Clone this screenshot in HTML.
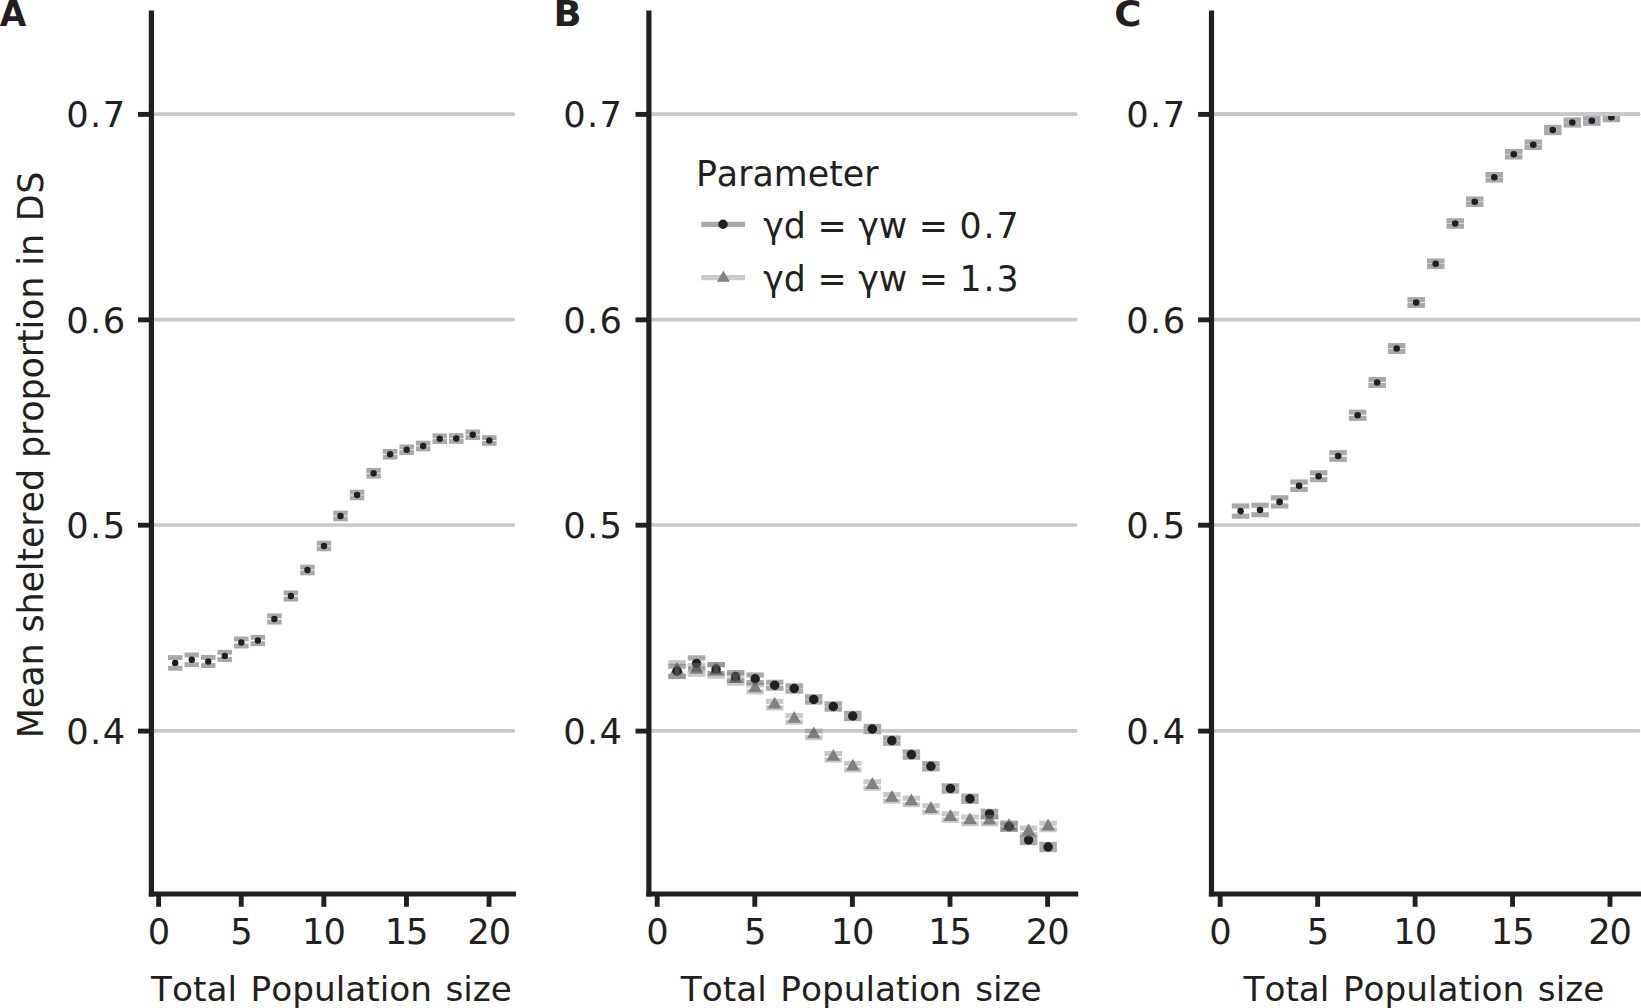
<!DOCTYPE html>
<html lang="en"><head><meta charset="utf-8"><title>Figure</title>
<style>html,body{margin:0;padding:0;background:#fff}svg{display:block}</style></head>
<body>
<svg width="1641" height="1008" viewBox="0 0 1641 1008" font-family="'DejaVu Sans', 'Liberation Sans', sans-serif" fill="#231f20" style="font-kerning:none">
<rect width="1641" height="1008" fill="#fff"/>
<line x1="153.90" y1="114.20" x2="513.45" y2="114.20" stroke="#c7c8ca" stroke-width="3.7" stroke-linecap="round"/>
<line x1="153.90" y1="319.65" x2="513.45" y2="319.65" stroke="#c7c8ca" stroke-width="3.7" stroke-linecap="round"/>
<line x1="153.90" y1="525.00" x2="513.45" y2="525.00" stroke="#c7c8ca" stroke-width="3.7" stroke-linecap="round"/>
<line x1="153.90" y1="730.90" x2="513.45" y2="730.90" stroke="#c7c8ca" stroke-width="3.7" stroke-linecap="round"/>
<line x1="651.50" y1="114.20" x2="1075.65" y2="114.20" stroke="#c7c8ca" stroke-width="3.7" stroke-linecap="round"/>
<line x1="651.50" y1="319.65" x2="1075.65" y2="319.65" stroke="#c7c8ca" stroke-width="3.7" stroke-linecap="round"/>
<line x1="651.50" y1="525.00" x2="1075.65" y2="525.00" stroke="#c7c8ca" stroke-width="3.7" stroke-linecap="round"/>
<line x1="651.50" y1="730.90" x2="1075.65" y2="730.90" stroke="#c7c8ca" stroke-width="3.7" stroke-linecap="round"/>
<line x1="1214.20" y1="114.20" x2="1638.45" y2="114.20" stroke="#c7c8ca" stroke-width="3.7" stroke-linecap="round"/>
<line x1="1214.20" y1="319.65" x2="1638.45" y2="319.65" stroke="#c7c8ca" stroke-width="3.7" stroke-linecap="round"/>
<line x1="1214.20" y1="525.00" x2="1638.45" y2="525.00" stroke="#c7c8ca" stroke-width="3.7" stroke-linecap="round"/>
<line x1="1214.20" y1="730.90" x2="1638.45" y2="730.90" stroke="#c7c8ca" stroke-width="3.7" stroke-linecap="round"/>
<g fill="#a7a9ac"><rect x="167.93" y="655.10" width="14.50" height="4.9"/><rect x="167.93" y="665.80" width="14.50" height="4.9"/><rect x="172.73" y="657.55" width="4.9" height="10.70"/></g>
<g fill="#a7a9ac"><rect x="184.47" y="652.50" width="14.50" height="4.9"/><rect x="184.47" y="662.20" width="14.50" height="4.9"/><rect x="189.27" y="654.95" width="4.9" height="9.70"/></g>
<g fill="#a7a9ac"><rect x="201.00" y="655.00" width="14.50" height="4.9"/><rect x="201.00" y="663.10" width="14.50" height="4.9"/><rect x="205.80" y="657.45" width="4.9" height="8.10"/></g>
<g fill="#a7a9ac"><rect x="217.54" y="649.85" width="14.50" height="4.9"/><rect x="217.54" y="657.05" width="14.50" height="4.9"/><rect x="222.34" y="652.30" width="4.9" height="7.20"/></g>
<g fill="#a7a9ac"><rect x="234.07" y="636.55" width="14.50" height="4.9"/><rect x="234.07" y="643.55" width="14.50" height="4.9"/><rect x="238.87" y="639.00" width="4.9" height="7.00"/></g>
<g fill="#a7a9ac"><rect x="250.60" y="634.85" width="14.50" height="4.9"/><rect x="250.60" y="641.25" width="14.50" height="4.9"/><rect x="255.40" y="637.30" width="4.9" height="6.40"/></g>
<g fill="#a7a9ac"><rect x="267.14" y="613.45" width="14.50" height="4.9"/><rect x="267.14" y="619.65" width="14.50" height="4.9"/><rect x="271.94" y="615.90" width="4.9" height="6.20"/></g>
<g fill="#a7a9ac"><rect x="283.67" y="590.45" width="14.50" height="4.9"/><rect x="283.67" y="596.65" width="14.50" height="4.9"/><rect x="288.47" y="592.90" width="4.9" height="6.20"/></g>
<g fill="#a7a9ac"><rect x="300.21" y="564.65" width="14.50" height="4.9"/><rect x="300.21" y="570.45" width="14.50" height="4.9"/><rect x="305.01" y="567.10" width="4.9" height="5.80"/></g>
<g fill="#a7a9ac"><rect x="316.74" y="540.70" width="14.50" height="4.9"/><rect x="316.74" y="546.40" width="14.50" height="4.9"/><rect x="321.54" y="543.15" width="4.9" height="5.70"/></g>
<g fill="#a7a9ac"><rect x="333.27" y="510.70" width="14.50" height="4.9"/><rect x="333.27" y="516.40" width="14.50" height="4.9"/><rect x="338.07" y="513.15" width="4.9" height="5.70"/></g>
<g fill="#a7a9ac"><rect x="349.81" y="489.70" width="14.50" height="4.9"/><rect x="349.81" y="495.40" width="14.50" height="4.9"/><rect x="354.61" y="492.15" width="4.9" height="5.70"/></g>
<g fill="#a7a9ac"><rect x="366.34" y="467.95" width="14.50" height="4.9"/><rect x="366.34" y="473.65" width="14.50" height="4.9"/><rect x="371.14" y="470.40" width="4.9" height="5.70"/></g>
<g fill="#a7a9ac"><rect x="382.88" y="448.95" width="14.50" height="4.9"/><rect x="382.88" y="454.65" width="14.50" height="4.9"/><rect x="387.68" y="451.40" width="4.9" height="5.70"/></g>
<g fill="#a7a9ac"><rect x="399.41" y="444.45" width="14.50" height="4.9"/><rect x="399.41" y="450.15" width="14.50" height="4.9"/><rect x="404.21" y="446.90" width="4.9" height="5.70"/></g>
<g fill="#a7a9ac"><rect x="415.94" y="440.70" width="14.50" height="4.9"/><rect x="415.94" y="446.40" width="14.50" height="4.9"/><rect x="420.74" y="443.15" width="4.9" height="5.70"/></g>
<g fill="#a7a9ac"><rect x="432.48" y="433.45" width="14.50" height="4.9"/><rect x="432.48" y="439.15" width="14.50" height="4.9"/><rect x="437.28" y="435.90" width="4.9" height="5.70"/></g>
<g fill="#a7a9ac"><rect x="449.01" y="433.20" width="14.50" height="4.9"/><rect x="449.01" y="438.90" width="14.50" height="4.9"/><rect x="453.81" y="435.65" width="4.9" height="5.70"/></g>
<g fill="#a7a9ac"><rect x="465.55" y="429.45" width="14.50" height="4.9"/><rect x="465.55" y="435.15" width="14.50" height="4.9"/><rect x="470.35" y="431.90" width="4.9" height="5.70"/></g>
<g fill="#a7a9ac"><rect x="482.08" y="435.20" width="14.50" height="4.9"/><rect x="482.08" y="440.90" width="14.50" height="4.9"/><rect x="486.88" y="437.65" width="4.9" height="5.70"/></g>
<circle cx="175.18" cy="662.90" r="3.2" fill="#231f20"/>
<circle cx="191.72" cy="659.80" r="3.2" fill="#231f20"/>
<circle cx="208.25" cy="661.50" r="3.2" fill="#231f20"/>
<circle cx="224.79" cy="655.90" r="3.2" fill="#231f20"/>
<circle cx="241.32" cy="642.50" r="3.2" fill="#231f20"/>
<circle cx="257.85" cy="640.50" r="3.2" fill="#231f20"/>
<circle cx="274.39" cy="619.00" r="3.2" fill="#231f20"/>
<circle cx="290.92" cy="596.00" r="3.2" fill="#231f20"/>
<circle cx="307.46" cy="570.00" r="3.2" fill="#231f20"/>
<circle cx="323.99" cy="546.00" r="3.2" fill="#231f20"/>
<circle cx="340.52" cy="516.00" r="3.2" fill="#231f20"/>
<circle cx="357.06" cy="495.00" r="3.2" fill="#231f20"/>
<circle cx="373.59" cy="473.25" r="3.2" fill="#231f20"/>
<circle cx="390.13" cy="454.25" r="3.2" fill="#231f20"/>
<circle cx="406.66" cy="449.75" r="3.2" fill="#231f20"/>
<circle cx="423.19" cy="446.00" r="3.2" fill="#231f20"/>
<circle cx="439.73" cy="438.75" r="3.2" fill="#231f20"/>
<circle cx="456.26" cy="438.50" r="3.2" fill="#231f20"/>
<circle cx="472.80" cy="434.75" r="3.2" fill="#231f20"/>
<circle cx="489.33" cy="440.50" r="3.2" fill="#231f20"/>
<g fill="#a7a9ac"><rect x="1231.80" y="503.45" width="17.50" height="5.1"/><rect x="1231.80" y="513.65" width="17.50" height="5.1"/><rect x="1238.00" y="506.00" width="5.1" height="10.20"/></g>
<g fill="#a7a9ac"><rect x="1251.31" y="502.70" width="17.50" height="5.1"/><rect x="1251.31" y="512.20" width="17.50" height="5.1"/><rect x="1257.51" y="505.25" width="5.1" height="9.50"/></g>
<g fill="#a7a9ac"><rect x="1270.83" y="495.25" width="17.50" height="5.1"/><rect x="1270.83" y="503.45" width="17.50" height="5.1"/><rect x="1277.03" y="497.80" width="5.1" height="8.20"/></g>
<g fill="#a7a9ac"><rect x="1290.34" y="479.45" width="17.50" height="5.1"/><rect x="1290.34" y="486.95" width="17.50" height="5.1"/><rect x="1296.54" y="482.00" width="5.1" height="7.50"/></g>
<g fill="#a7a9ac"><rect x="1309.86" y="470.30" width="17.50" height="5.1"/><rect x="1309.86" y="477.10" width="17.50" height="5.1"/><rect x="1316.06" y="472.85" width="5.1" height="6.80"/></g>
<g fill="#a7a9ac"><rect x="1329.38" y="450.15" width="17.50" height="5.1"/><rect x="1329.38" y="456.75" width="17.50" height="5.1"/><rect x="1335.58" y="452.70" width="5.1" height="6.60"/></g>
<g fill="#a7a9ac"><rect x="1348.89" y="409.60" width="17.50" height="5.1"/><rect x="1348.89" y="415.80" width="17.50" height="5.1"/><rect x="1355.09" y="412.15" width="5.1" height="6.20"/></g>
<g fill="#a7a9ac"><rect x="1368.41" y="376.95" width="17.50" height="5.1"/><rect x="1368.41" y="382.95" width="17.50" height="5.1"/><rect x="1374.61" y="379.50" width="5.1" height="6.00"/></g>
<g fill="#a7a9ac"><rect x="1387.92" y="343.05" width="17.50" height="5.1"/><rect x="1387.92" y="348.85" width="17.50" height="5.1"/><rect x="1394.12" y="345.60" width="5.1" height="5.80"/></g>
<g fill="#a7a9ac"><rect x="1407.44" y="297.10" width="17.50" height="5.1"/><rect x="1407.44" y="302.80" width="17.50" height="5.1"/><rect x="1413.64" y="299.65" width="5.1" height="5.70"/></g>
<g fill="#a7a9ac"><rect x="1426.96" y="258.45" width="17.50" height="5.1"/><rect x="1426.96" y="263.95" width="17.50" height="5.1"/><rect x="1433.16" y="261.00" width="5.1" height="5.50"/></g>
<g fill="#a7a9ac"><rect x="1446.47" y="218.20" width="17.50" height="5.1"/><rect x="1446.47" y="223.70" width="17.50" height="5.1"/><rect x="1452.67" y="220.75" width="5.1" height="5.50"/></g>
<g fill="#a7a9ac"><rect x="1465.99" y="196.45" width="17.50" height="5.1"/><rect x="1465.99" y="201.95" width="17.50" height="5.1"/><rect x="1472.19" y="199.00" width="5.1" height="5.50"/></g>
<g fill="#a7a9ac"><rect x="1485.50" y="171.95" width="17.50" height="5.1"/><rect x="1485.50" y="177.45" width="17.50" height="5.1"/><rect x="1491.70" y="174.50" width="5.1" height="5.50"/></g>
<g fill="#a7a9ac"><rect x="1505.02" y="148.95" width="17.50" height="5.1"/><rect x="1505.02" y="154.45" width="17.50" height="5.1"/><rect x="1511.22" y="151.50" width="5.1" height="5.50"/></g>
<g fill="#a7a9ac"><rect x="1524.54" y="139.45" width="17.50" height="5.1"/><rect x="1524.54" y="144.95" width="17.50" height="5.1"/><rect x="1530.74" y="142.00" width="5.1" height="5.50"/></g>
<g fill="#a7a9ac"><rect x="1544.05" y="124.80" width="17.50" height="5.1"/><rect x="1544.05" y="130.10" width="17.50" height="5.1"/><rect x="1550.25" y="127.35" width="5.1" height="5.30"/></g>
<g fill="#a7a9ac"><rect x="1563.57" y="117.45" width="17.50" height="5.1"/><rect x="1563.57" y="122.45" width="17.50" height="5.1"/><rect x="1569.77" y="120.00" width="5.1" height="5.00"/></g>
<g fill="#a7a9ac"><rect x="1583.08" y="115.70" width="17.50" height="5.1"/><rect x="1583.08" y="120.70" width="17.50" height="5.1"/><rect x="1589.28" y="118.25" width="5.1" height="5.00"/></g>
<g fill="#a7a9ac"><rect x="1602.60" y="112.15" width="17.50" height="5.1"/><rect x="1602.60" y="117.15" width="17.50" height="5.1"/><rect x="1608.80" y="114.70" width="5.1" height="5.00"/></g>
<circle cx="1240.55" cy="511.10" r="3.3" fill="#231f20"/>
<circle cx="1260.06" cy="510.00" r="3.3" fill="#231f20"/>
<circle cx="1279.58" cy="501.90" r="3.3" fill="#231f20"/>
<circle cx="1299.09" cy="485.75" r="3.3" fill="#231f20"/>
<circle cx="1318.61" cy="476.25" r="3.3" fill="#231f20"/>
<circle cx="1338.13" cy="456.00" r="3.3" fill="#231f20"/>
<circle cx="1357.64" cy="415.25" r="3.3" fill="#231f20"/>
<circle cx="1377.16" cy="382.50" r="3.3" fill="#231f20"/>
<circle cx="1396.67" cy="348.50" r="3.3" fill="#231f20"/>
<circle cx="1416.19" cy="302.50" r="3.3" fill="#231f20"/>
<circle cx="1435.71" cy="263.75" r="3.3" fill="#231f20"/>
<circle cx="1455.22" cy="223.50" r="3.3" fill="#231f20"/>
<circle cx="1474.74" cy="201.75" r="3.3" fill="#231f20"/>
<circle cx="1494.25" cy="177.25" r="3.3" fill="#231f20"/>
<circle cx="1513.77" cy="154.25" r="3.3" fill="#231f20"/>
<circle cx="1533.29" cy="144.75" r="3.3" fill="#231f20"/>
<circle cx="1552.80" cy="130.00" r="3.3" fill="#231f20"/>
<circle cx="1572.32" cy="122.50" r="3.3" fill="#231f20"/>
<circle cx="1591.83" cy="120.75" r="3.3" fill="#231f20"/>
<circle cx="1611.35" cy="117.20" r="3.3" fill="#231f20"/>
<line x1="1214.20" y1="114.20" x2="1638.45" y2="114.20" stroke="#c7c8ca" stroke-width="3.7" stroke-linecap="round"/>
<g fill="#a7a9ac"><rect x="668.28" y="663.70" width="17.50" height="5.1"/><rect x="668.28" y="673.70" width="17.50" height="5.1"/><rect x="674.48" y="666.25" width="5.1" height="10.00"/></g>
<g fill="#a7a9ac"><rect x="687.81" y="655.35" width="17.50" height="5.1"/><rect x="687.81" y="666.55" width="17.50" height="5.1"/><rect x="694.01" y="657.90" width="5.1" height="11.20"/></g>
<g fill="#a7a9ac"><rect x="707.34" y="661.95" width="17.50" height="5.1"/><rect x="707.34" y="670.95" width="17.50" height="5.1"/><rect x="713.54" y="664.50" width="5.1" height="9.00"/></g>
<g fill="#a7a9ac"><rect x="726.87" y="670.00" width="17.50" height="5.1"/><rect x="726.87" y="677.90" width="17.50" height="5.1"/><rect x="733.07" y="672.55" width="5.1" height="7.90"/></g>
<g fill="#a7a9ac"><rect x="746.40" y="672.40" width="17.50" height="5.1"/><rect x="746.40" y="680.00" width="17.50" height="5.1"/><rect x="752.60" y="674.95" width="5.1" height="7.60"/></g>
<g fill="#a7a9ac"><rect x="765.93" y="679.70" width="17.50" height="5.1"/><rect x="765.93" y="685.70" width="17.50" height="5.1"/><rect x="772.13" y="682.25" width="5.1" height="6.00"/></g>
<g fill="#a7a9ac"><rect x="785.46" y="683.30" width="17.50" height="5.1"/><rect x="785.46" y="688.60" width="17.50" height="5.1"/><rect x="791.66" y="685.85" width="5.1" height="5.30"/></g>
<g fill="#a7a9ac"><rect x="804.99" y="694.20" width="17.50" height="5.1"/><rect x="804.99" y="699.50" width="17.50" height="5.1"/><rect x="811.19" y="696.75" width="5.1" height="5.30"/></g>
<g fill="#a7a9ac"><rect x="824.52" y="701.30" width="17.50" height="5.1"/><rect x="824.52" y="706.60" width="17.50" height="5.1"/><rect x="830.72" y="703.85" width="5.1" height="5.30"/></g>
<g fill="#a7a9ac"><rect x="844.05" y="710.80" width="17.50" height="5.1"/><rect x="844.05" y="716.10" width="17.50" height="5.1"/><rect x="850.25" y="713.35" width="5.1" height="5.30"/></g>
<g fill="#a7a9ac"><rect x="863.58" y="723.80" width="17.50" height="5.1"/><rect x="863.58" y="729.10" width="17.50" height="5.1"/><rect x="869.78" y="726.35" width="5.1" height="5.30"/></g>
<g fill="#a7a9ac"><rect x="883.11" y="735.40" width="17.50" height="5.1"/><rect x="883.11" y="740.70" width="17.50" height="5.1"/><rect x="889.31" y="737.95" width="5.1" height="5.30"/></g>
<g fill="#a7a9ac"><rect x="902.64" y="749.40" width="17.50" height="5.1"/><rect x="902.64" y="754.70" width="17.50" height="5.1"/><rect x="908.84" y="751.95" width="5.1" height="5.30"/></g>
<g fill="#a7a9ac"><rect x="922.17" y="761.05" width="17.50" height="5.1"/><rect x="922.17" y="766.35" width="17.50" height="5.1"/><rect x="928.37" y="763.60" width="5.1" height="5.30"/></g>
<g fill="#a7a9ac"><rect x="941.70" y="783.30" width="17.50" height="5.1"/><rect x="941.70" y="788.60" width="17.50" height="5.1"/><rect x="947.90" y="785.85" width="5.1" height="5.30"/></g>
<g fill="#a7a9ac"><rect x="961.23" y="793.55" width="17.50" height="5.1"/><rect x="961.23" y="798.85" width="17.50" height="5.1"/><rect x="967.43" y="796.10" width="5.1" height="5.30"/></g>
<g fill="#a7a9ac"><rect x="980.76" y="808.70" width="17.50" height="5.1"/><rect x="980.76" y="814.00" width="17.50" height="5.1"/><rect x="986.96" y="811.25" width="5.1" height="5.30"/></g>
<g fill="#a7a9ac"><rect x="1000.29" y="821.40" width="17.50" height="5.1"/><rect x="1000.29" y="826.70" width="17.50" height="5.1"/><rect x="1006.49" y="823.95" width="5.1" height="5.30"/></g>
<g fill="#a7a9ac"><rect x="1019.82" y="834.80" width="17.50" height="5.1"/><rect x="1019.82" y="840.10" width="17.50" height="5.1"/><rect x="1026.02" y="837.35" width="5.1" height="5.30"/></g>
<g fill="#a7a9ac"><rect x="1039.35" y="841.80" width="17.50" height="5.1"/><rect x="1039.35" y="847.10" width="17.50" height="5.1"/><rect x="1045.55" y="844.35" width="5.1" height="5.30"/></g>
<circle cx="677.03" cy="671.25" r="4.75" fill="#231f20"/>
<circle cx="696.56" cy="663.50" r="4.75" fill="#231f20"/>
<circle cx="716.09" cy="669.00" r="4.75" fill="#231f20"/>
<circle cx="735.62" cy="676.50" r="4.75" fill="#231f20"/>
<circle cx="755.15" cy="678.75" r="4.75" fill="#231f20"/>
<circle cx="774.68" cy="685.25" r="4.75" fill="#231f20"/>
<circle cx="794.21" cy="688.50" r="4.75" fill="#231f20"/>
<circle cx="813.74" cy="699.40" r="4.75" fill="#231f20"/>
<circle cx="833.27" cy="706.50" r="4.75" fill="#231f20"/>
<circle cx="852.80" cy="716.00" r="4.75" fill="#231f20"/>
<circle cx="872.33" cy="729.00" r="4.75" fill="#231f20"/>
<circle cx="891.86" cy="740.60" r="4.75" fill="#231f20"/>
<circle cx="911.39" cy="754.60" r="4.75" fill="#231f20"/>
<circle cx="930.92" cy="766.25" r="4.75" fill="#231f20"/>
<circle cx="950.45" cy="788.50" r="4.75" fill="#231f20"/>
<circle cx="969.98" cy="798.75" r="4.75" fill="#231f20"/>
<circle cx="989.51" cy="813.90" r="4.75" fill="#231f20"/>
<circle cx="1009.04" cy="826.60" r="4.75" fill="#231f20"/>
<circle cx="1028.57" cy="840.00" r="4.75" fill="#231f20"/>
<circle cx="1048.10" cy="847.00" r="4.75" fill="#231f20"/>
<polygon points="677.03,661.80 683.87,673.65 670.19,673.65" fill="#231f20" fill-opacity="0.56"/>
<polygon points="696.56,662.00 703.40,673.85 689.72,673.85" fill="#231f20" fill-opacity="0.56"/>
<polygon points="716.09,662.60 722.93,674.45 709.25,674.45" fill="#231f20" fill-opacity="0.56"/>
<polygon points="735.62,671.20 742.46,683.05 728.78,683.05" fill="#231f20" fill-opacity="0.56"/>
<polygon points="755.15,680.50 761.99,692.35 748.31,692.35" fill="#231f20" fill-opacity="0.56"/>
<polygon points="774.68,696.70 781.52,708.55 767.84,708.55" fill="#231f20" fill-opacity="0.56"/>
<polygon points="794.21,711.00 801.05,722.85 787.37,722.85" fill="#231f20" fill-opacity="0.56"/>
<polygon points="813.74,726.50 820.58,738.35 806.90,738.35" fill="#231f20" fill-opacity="0.56"/>
<polygon points="833.27,748.90 840.11,760.75 826.43,760.75" fill="#231f20" fill-opacity="0.56"/>
<polygon points="852.80,758.70 859.64,770.55 845.96,770.55" fill="#231f20" fill-opacity="0.56"/>
<polygon points="872.33,777.10 879.17,788.95 865.49,788.95" fill="#231f20" fill-opacity="0.56"/>
<polygon points="891.86,790.00 898.70,801.85 885.02,801.85" fill="#231f20" fill-opacity="0.56"/>
<polygon points="911.39,793.50 918.23,805.35 904.55,805.35" fill="#231f20" fill-opacity="0.56"/>
<polygon points="930.92,801.10 937.76,812.95 924.08,812.95" fill="#231f20" fill-opacity="0.56"/>
<polygon points="950.45,809.10 957.29,820.95 943.61,820.95" fill="#231f20" fill-opacity="0.56"/>
<polygon points="969.98,812.50 976.82,824.35 963.14,824.35" fill="#231f20" fill-opacity="0.56"/>
<polygon points="989.51,812.60 996.35,824.45 982.67,824.45" fill="#231f20" fill-opacity="0.56"/>
<polygon points="1009.04,818.10 1015.88,829.95 1002.20,829.95" fill="#231f20" fill-opacity="0.56"/>
<polygon points="1028.57,823.40 1035.41,835.25 1021.73,835.25" fill="#231f20" fill-opacity="0.56"/>
<polygon points="1048.10,818.60 1054.94,830.45 1041.26,830.45" fill="#231f20" fill-opacity="0.56"/>
<g fill="#7f7f7f" opacity="0.42"><rect x="668.28" y="660.15" width="17.50" height="5.1"/><rect x="668.28" y="674.15" width="17.50" height="5.1"/><rect x="674.48" y="662.70" width="5.1" height="14.00"/></g>
<g fill="#7f7f7f" opacity="0.42"><rect x="687.81" y="662.95" width="17.50" height="5.1"/><rect x="687.81" y="671.75" width="17.50" height="5.1"/><rect x="694.01" y="665.50" width="5.1" height="8.80"/></g>
<g fill="#7f7f7f" opacity="0.42"><rect x="707.34" y="662.25" width="17.50" height="5.1"/><rect x="707.34" y="673.65" width="17.50" height="5.1"/><rect x="713.54" y="664.80" width="5.1" height="11.40"/></g>
<g fill="#7f7f7f" opacity="0.42"><rect x="726.87" y="672.40" width="17.50" height="5.1"/><rect x="726.87" y="680.70" width="17.50" height="5.1"/><rect x="733.07" y="674.95" width="5.1" height="8.30"/></g>
<g fill="#7f7f7f" opacity="0.42"><rect x="746.40" y="682.35" width="17.50" height="5.1"/><rect x="746.40" y="689.35" width="17.50" height="5.1"/><rect x="752.60" y="684.90" width="5.1" height="7.00"/></g>
<g fill="#7f7f7f" opacity="0.42"><rect x="765.93" y="698.80" width="17.50" height="5.1"/><rect x="765.93" y="705.30" width="17.50" height="5.1"/><rect x="772.13" y="701.35" width="5.1" height="6.50"/></g>
<g fill="#7f7f7f" opacity="0.42"><rect x="785.46" y="713.10" width="17.50" height="5.1"/><rect x="785.46" y="719.60" width="17.50" height="5.1"/><rect x="791.66" y="715.65" width="5.1" height="6.50"/></g>
<g fill="#7f7f7f" opacity="0.42"><rect x="804.99" y="728.60" width="17.50" height="5.1"/><rect x="804.99" y="735.10" width="17.50" height="5.1"/><rect x="811.19" y="731.15" width="5.1" height="6.50"/></g>
<g fill="#7f7f7f" opacity="0.42"><rect x="824.52" y="751.00" width="17.50" height="5.1"/><rect x="824.52" y="757.50" width="17.50" height="5.1"/><rect x="830.72" y="753.55" width="5.1" height="6.50"/></g>
<g fill="#7f7f7f" opacity="0.42"><rect x="844.05" y="760.80" width="17.50" height="5.1"/><rect x="844.05" y="767.30" width="17.50" height="5.1"/><rect x="850.25" y="763.35" width="5.1" height="6.50"/></g>
<g fill="#7f7f7f" opacity="0.42"><rect x="863.58" y="779.20" width="17.50" height="5.1"/><rect x="863.58" y="785.70" width="17.50" height="5.1"/><rect x="869.78" y="781.75" width="5.1" height="6.50"/></g>
<g fill="#7f7f7f" opacity="0.42"><rect x="883.11" y="792.10" width="17.50" height="5.1"/><rect x="883.11" y="798.60" width="17.50" height="5.1"/><rect x="889.31" y="794.65" width="5.1" height="6.50"/></g>
<g fill="#7f7f7f" opacity="0.42"><rect x="902.64" y="795.60" width="17.50" height="5.1"/><rect x="902.64" y="802.10" width="17.50" height="5.1"/><rect x="908.84" y="798.15" width="5.1" height="6.50"/></g>
<g fill="#7f7f7f" opacity="0.42"><rect x="922.17" y="803.20" width="17.50" height="5.1"/><rect x="922.17" y="809.70" width="17.50" height="5.1"/><rect x="928.37" y="805.75" width="5.1" height="6.50"/></g>
<g fill="#7f7f7f" opacity="0.42"><rect x="941.70" y="811.20" width="17.50" height="5.1"/><rect x="941.70" y="817.70" width="17.50" height="5.1"/><rect x="947.90" y="813.75" width="5.1" height="6.50"/></g>
<g fill="#7f7f7f" opacity="0.42"><rect x="961.23" y="814.60" width="17.50" height="5.1"/><rect x="961.23" y="821.10" width="17.50" height="5.1"/><rect x="967.43" y="817.15" width="5.1" height="6.50"/></g>
<g fill="#7f7f7f" opacity="0.42"><rect x="980.76" y="814.70" width="17.50" height="5.1"/><rect x="980.76" y="821.20" width="17.50" height="5.1"/><rect x="986.96" y="817.25" width="5.1" height="6.50"/></g>
<g fill="#7f7f7f" opacity="0.42"><rect x="1000.29" y="820.20" width="17.50" height="5.1"/><rect x="1000.29" y="826.70" width="17.50" height="5.1"/><rect x="1006.49" y="822.75" width="5.1" height="6.50"/></g>
<g fill="#7f7f7f" opacity="0.42"><rect x="1019.82" y="825.50" width="17.50" height="5.1"/><rect x="1019.82" y="832.00" width="17.50" height="5.1"/><rect x="1026.02" y="828.05" width="5.1" height="6.50"/></g>
<g fill="#7f7f7f" opacity="0.42"><rect x="1039.35" y="820.70" width="17.50" height="5.1"/><rect x="1039.35" y="827.20" width="17.50" height="5.1"/><rect x="1045.55" y="823.25" width="5.1" height="6.50"/></g>
<line x1="151.40" y1="10.4" x2="151.40" y2="896.60" stroke="#231f20" stroke-width="5.2"/>
<line x1="148.80" y1="894.00" x2="516.00" y2="894.00" stroke="#231f20" stroke-width="5.2"/>
<line x1="138.00" y1="114.40" x2="151.40" y2="114.40" stroke="#231f20" stroke-width="4.9"/>
<text transform="translate(126.40,127.20) scale(1,1.03)" text-anchor="end" font-size="35.3" letter-spacing="1.3">0.7</text>
<line x1="138.00" y1="319.85" x2="151.40" y2="319.85" stroke="#231f20" stroke-width="4.9"/>
<text transform="translate(126.40,332.65) scale(1,1.03)" text-anchor="end" font-size="35.3" letter-spacing="1.3">0.6</text>
<line x1="138.00" y1="525.20" x2="151.40" y2="525.20" stroke="#231f20" stroke-width="4.9"/>
<text transform="translate(126.40,538.00) scale(1,1.03)" text-anchor="end" font-size="35.3" letter-spacing="1.3">0.5</text>
<line x1="138.00" y1="731.10" x2="151.40" y2="731.10" stroke="#231f20" stroke-width="4.9"/>
<text transform="translate(126.40,743.90) scale(1,1.03)" text-anchor="end" font-size="35.3" letter-spacing="1.3">0.4</text>
<line x1="158.65" y1="894.00" x2="158.65" y2="906.8" stroke="#231f20" stroke-width="4.9"/>
<text transform="translate(158.95,944.1) scale(1,1.03)" text-anchor="middle" font-size="35.3">0</text>
<line x1="241.25" y1="894.00" x2="241.25" y2="906.8" stroke="#231f20" stroke-width="4.9"/>
<text transform="translate(241.55,944.1) scale(1,1.03)" text-anchor="middle" font-size="35.3">5</text>
<line x1="323.85" y1="894.00" x2="323.85" y2="906.8" stroke="#231f20" stroke-width="4.9"/>
<text transform="translate(323.45,944.1) scale(1,1.03)" text-anchor="middle" font-size="35.3" letter-spacing="-1.1">10</text>
<line x1="406.45" y1="894.00" x2="406.45" y2="906.8" stroke="#231f20" stroke-width="4.9"/>
<text transform="translate(406.05,944.1) scale(1,1.03)" text-anchor="middle" font-size="35.3" letter-spacing="-1.1">15</text>
<line x1="489.05" y1="894.00" x2="489.05" y2="906.8" stroke="#231f20" stroke-width="4.9"/>
<text transform="translate(488.65,944.1) scale(1,1.03)" text-anchor="middle" font-size="35.3" letter-spacing="-1.1">20</text>
<text x="331.50" y="1001" text-anchor="middle" font-size="34.3" word-spacing="2.6">Total Population size</text>
<line x1="648.90" y1="10.4" x2="648.90" y2="896.60" stroke="#231f20" stroke-width="5.2"/>
<line x1="646.30" y1="894.00" x2="1078.20" y2="894.00" stroke="#231f20" stroke-width="5.2"/>
<line x1="635.50" y1="114.40" x2="648.90" y2="114.40" stroke="#231f20" stroke-width="4.9"/>
<text transform="translate(623.30,127.20) scale(1,1.03)" text-anchor="end" font-size="35.3" letter-spacing="1.3">0.7</text>
<line x1="635.50" y1="319.85" x2="648.90" y2="319.85" stroke="#231f20" stroke-width="4.9"/>
<text transform="translate(623.30,332.65) scale(1,1.03)" text-anchor="end" font-size="35.3" letter-spacing="1.3">0.6</text>
<line x1="635.50" y1="525.20" x2="648.90" y2="525.20" stroke="#231f20" stroke-width="4.9"/>
<text transform="translate(623.30,538.00) scale(1,1.03)" text-anchor="end" font-size="35.3" letter-spacing="1.3">0.5</text>
<line x1="635.50" y1="731.10" x2="648.90" y2="731.10" stroke="#231f20" stroke-width="4.9"/>
<text transform="translate(623.30,743.90) scale(1,1.03)" text-anchor="end" font-size="35.3" letter-spacing="1.3">0.4</text>
<line x1="657.20" y1="894.00" x2="657.20" y2="906.8" stroke="#231f20" stroke-width="4.9"/>
<text transform="translate(657.50,944.1) scale(1,1.03)" text-anchor="middle" font-size="35.3">0</text>
<line x1="754.80" y1="894.00" x2="754.80" y2="906.8" stroke="#231f20" stroke-width="4.9"/>
<text transform="translate(755.10,944.1) scale(1,1.03)" text-anchor="middle" font-size="35.3">5</text>
<line x1="852.40" y1="894.00" x2="852.40" y2="906.8" stroke="#231f20" stroke-width="4.9"/>
<text transform="translate(852.00,944.1) scale(1,1.03)" text-anchor="middle" font-size="35.3" letter-spacing="-1.1">10</text>
<line x1="950.00" y1="894.00" x2="950.00" y2="906.8" stroke="#231f20" stroke-width="4.9"/>
<text transform="translate(949.60,944.1) scale(1,1.03)" text-anchor="middle" font-size="35.3" letter-spacing="-1.1">15</text>
<line x1="1047.60" y1="894.00" x2="1047.60" y2="906.8" stroke="#231f20" stroke-width="4.9"/>
<text transform="translate(1047.20,944.1) scale(1,1.03)" text-anchor="middle" font-size="35.3" letter-spacing="-1.1">20</text>
<text x="861.30" y="1001" text-anchor="middle" font-size="34.3" word-spacing="2.6">Total Population size</text>
<line x1="1211.50" y1="10.4" x2="1211.50" y2="896.60" stroke="#231f20" stroke-width="5.2"/>
<line x1="1208.90" y1="894.00" x2="1641.00" y2="894.00" stroke="#231f20" stroke-width="5.2"/>
<line x1="1198.10" y1="114.40" x2="1211.50" y2="114.40" stroke="#231f20" stroke-width="4.9"/>
<text transform="translate(1186.40,127.20) scale(1,1.03)" text-anchor="end" font-size="35.3" letter-spacing="1.3">0.7</text>
<line x1="1198.10" y1="319.85" x2="1211.50" y2="319.85" stroke="#231f20" stroke-width="4.9"/>
<text transform="translate(1186.40,332.65) scale(1,1.03)" text-anchor="end" font-size="35.3" letter-spacing="1.3">0.6</text>
<line x1="1198.10" y1="525.20" x2="1211.50" y2="525.20" stroke="#231f20" stroke-width="4.9"/>
<text transform="translate(1186.40,538.00) scale(1,1.03)" text-anchor="end" font-size="35.3" letter-spacing="1.3">0.5</text>
<line x1="1198.10" y1="731.10" x2="1211.50" y2="731.10" stroke="#231f20" stroke-width="4.9"/>
<text transform="translate(1186.40,743.90) scale(1,1.03)" text-anchor="end" font-size="35.3" letter-spacing="1.3">0.4</text>
<line x1="1220.20" y1="894.00" x2="1220.20" y2="906.8" stroke="#231f20" stroke-width="4.9"/>
<text transform="translate(1220.50,944.1) scale(1,1.03)" text-anchor="middle" font-size="35.3">0</text>
<line x1="1317.65" y1="894.00" x2="1317.65" y2="906.8" stroke="#231f20" stroke-width="4.9"/>
<text transform="translate(1317.95,944.1) scale(1,1.03)" text-anchor="middle" font-size="35.3">5</text>
<line x1="1415.10" y1="894.00" x2="1415.10" y2="906.8" stroke="#231f20" stroke-width="4.9"/>
<text transform="translate(1414.70,944.1) scale(1,1.03)" text-anchor="middle" font-size="35.3" letter-spacing="-1.1">10</text>
<line x1="1512.55" y1="894.00" x2="1512.55" y2="906.8" stroke="#231f20" stroke-width="4.9"/>
<text transform="translate(1512.15,944.1) scale(1,1.03)" text-anchor="middle" font-size="35.3" letter-spacing="-1.1">15</text>
<line x1="1610.00" y1="894.00" x2="1610.00" y2="906.8" stroke="#231f20" stroke-width="4.9"/>
<text transform="translate(1609.60,944.1) scale(1,1.03)" text-anchor="middle" font-size="35.3" letter-spacing="-1.1">20</text>
<text x="1423.90" y="1001" text-anchor="middle" font-size="34.3" word-spacing="2.6">Total Population size</text>
<text transform="translate(42.8,738.2) rotate(-90)" font-size="34.9"><tspan x="0" y="0" letter-spacing="-0.11">Mean sheltered proportion in </tspan><tspan x="517" y="0" letter-spacing="0.6">DS</tspan></text>
<text transform="translate(-0.2,25.9) scale(0.98,1)" font-size="35" font-weight="bold">A</text>
<text transform="translate(553.4,25.9) scale(1.054,1)" font-size="35" font-weight="bold">B</text>
<text transform="translate(1114.2,25.9) scale(1.06,1)" font-size="35" font-weight="bold">C</text>
<text x="695.9" y="186" font-size="34.8">Parameter</text>
<line x1="701.3" y1="224.3" x2="745" y2="224.3" stroke="#a7a9ac" stroke-width="5.3"/>
<circle cx="723.00" cy="224.30" r="4.7" fill="#231f20"/>
<line x1="701.3" y1="277.6" x2="745" y2="277.6" stroke="#c9cacc" stroke-width="5.3"/>
<polygon points="723.40,270.50 729.90,281.75 716.90,281.75" fill="#808285"/>
<text x="763.2" y="237.5" font-size="34.8" word-spacing="0.5">γd = γw = <tspan letter-spacing="1.85">0.7</tspan></text>
<text x="763.2" y="291.3" font-size="34.8" word-spacing="0.5">γd = γw = <tspan letter-spacing="1.85">1.3</tspan></text>
</svg>
</body></html>
